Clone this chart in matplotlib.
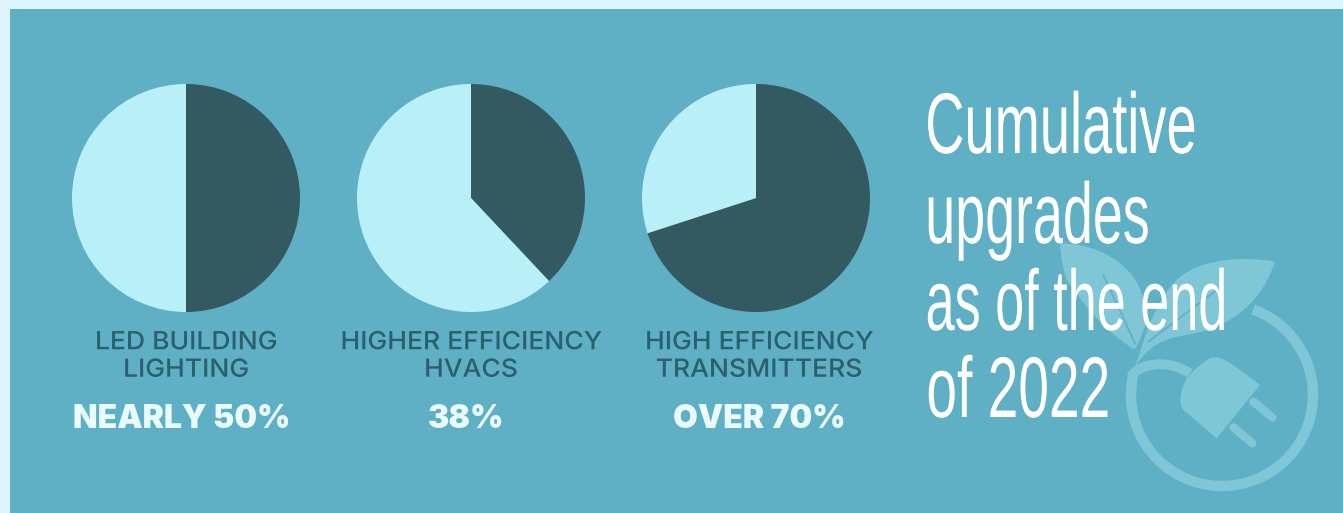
#!/usr/bin/python

import matplotlib
matplotlib.use('Agg')
import matplotlib.pyplot as plt
import matplotlib.patheffects as pe
from matplotlib.patches import Rectangle, PathPatch, Arc
from matplotlib.path import Path
from matplotlib.text import Text
from matplotlib.transforms import Affine2D, Bbox

# share of each pie (dark wedge, percent)
pie_values = [50, 38, 70]
pie_names = ['LED BUILDING\nLIGHTING', 'HIGHER EFFICIENCY\nHVACS', 'HIGH EFFICIENCY\nTRANSMITTERS']
pie_labels = ['NEARLY 50%', '38%', 'OVER 70%']
title_lines = ['Cumulative', 'upgrades', 'as of the end', 'of 2022']

# layout, in pixels of the picture
W, H = 1343, 513
PIE_X = [186, 471, 756]
PIE_Y = 198
RADIUS = 114
NAME_X = [186, 471, 759]
VALUE_X = [182, 466, 759]
TITLE_X = [1061, 1037.5, 1076.5, 1018.5]
TITLE_Y = [153, 243, 330, 417]
TITLE_SX = [0.63, 0.625, 0.606, 0.64]

BG = '#5FB0C5'
EDGE = '#DDF5FA'
DARK = '#335A60'
LIGHT = '#B9F0F7'
ICON = '#7FC6D6'
LABEL = '#2A5F6E'


class Squeeze(pe.AbstractPathEffect):
    # no condensed font is installed, so scale the glyphs about one x position
    def __init__(self, sx, x0):
        super().__init__()
        self.sx = sx
        self.x0 = x0

    def draw_path(self, renderer, gc, tpath, affine, rgbFace=None):
        squeeze = Affine2D().translate(-self.x0, 0).scale(self.sx, 1).translate(self.x0, 0)
        renderer.draw_path(gc, tpath, affine + squeeze, rgbFace)


class ScaledText(Text):
    # real text, with an extent that reports the drawn width
    def __init__(self, x, y, s, sx, **kwargs):
        super().__init__(x, y, s, path_effects=[Squeeze(sx, x)], **kwargs)
        self.sx = sx

    def get_window_extent(self, renderer=None, dpi=None):
        bb = super().get_window_extent(renderer, dpi)
        x0 = self.get_position()[0]
        return Bbox.from_extents(x0 + (bb.x0 - x0) * self.sx, bb.y0,
                                 x0 + (bb.x1 - x0) * self.sx, bb.y1)


def zoom_pt(x, y):
    # icon was measured on a 3x crop starting at (1040, 220)
    return (1040 + x / 3.0, 220 + y / 3.0)


def curve(points, codes):
    return Path([zoom_pt(*p) for p in points], codes)


M, L, C, Z = Path.MOVETO, Path.LINETO, Path.CURVE4, Path.CLOSEPOLY

fig = plt.figure(figsize=(W / 100, H / 100), dpi=100, facecolor=EDGE)
ax = fig.add_axes([0, 0, 1, 1])
ax.set_xlim(0, W)
ax.set_ylim(H, 0)
ax.axis('off')
ax.add_patch(Rectangle((10, 9), W - 10, H - 9, color=BG, lw=0))

# leaf / plug icon behind the title
left_leaf = curve([(60, 70), (190, 70), (300, 150), (312, 250), (318, 310), (295, 370), (285, 405),
                   (270, 380), (180, 320), (130, 250), (80, 180), (60, 120), (60, 70), (60, 70)],
                  [M, C, C, C, L, C, C, C, C, C, C, C, C, Z])
right_leaf = curve([(705, 125), (600, 105), (470, 120), (410, 180), (340, 250), (320, 340), (285, 440),
                    (330, 370), (380, 355), (440, 345), (560, 325), (660, 260), (705, 125), (705, 125)],
                   [M, C, C, C, C, C, C, C, C, C, C, C, C, Z])
plug = curve([(500, 420), (530, 400), (555, 412), (660, 495), (530, 655), (430, 570),
              (415, 550), (420, 510), (440, 475), (465, 445), (485, 432), (500, 420), (500, 420)],
             [M, C, C, L, L, L, C, C, C, C, C, C, Z])
for shape in [left_leaf, right_leaf, plug]:
    ax.add_patch(PathPatch(shape, fc=ICON, ec='none', zorder=2))

ax.plot(*zip(zoom_pt(190, 165), zoom_pt(285, 370)), color=BG, lw=1.2, zorder=3)
ax.plot(*zip(zoom_pt(530, 210), zoom_pt(325, 365)), color=BG, lw=1.2, zorder=3)
ax.plot(*zip(zoom_pt(640, 545), zoom_pt(697, 592)), color=ICON, lw=6, solid_capstyle='round', zorder=2)
ax.plot(*zip(zoom_pt(580, 622), zoom_pt(637, 670)), color=ICON, lw=6, solid_capstyle='round', zorder=2)
ax.add_patch(Arc((1222, 395), 182, 182, theta1=-70, theta2=192, color=ICON, lw=7.5, zorder=2))
cord = curve([(272, 470), (300, 430), (380, 415), (450, 460)], [M, C, C, C])
ax.add_patch(PathPatch(cord, fc='none', ec=ICON, lw=7, zorder=2))

# y axis is inverted here, so the angles run the other way round
for cx, v in zip(PIE_X, pie_values):
    ax.pie([v, 100 - v], colors=[DARK, LIGHT], startangle=-90, counterclock=True,
           center=(cx, PIE_Y), radius=RADIUS, frame=False,
           wedgeprops={'linewidth': 0, 'zorder': 4})
ax.set_xlim(0, W)
ax.set_ylim(H, 0)
ax.set_aspect('auto')

for x, name in zip(NAME_X, pie_names):
    ax.add_artist(ScaledText(x, 356.5, name, 1.06, ha='center', va='center', color=LABEL,
                             fontsize=18, family='Inter', weight='medium', linespacing=1.25,
                             zorder=5))
for x, label in zip(VALUE_X, pie_labels):
    ax.text(x, 419, label, ha='center', va='center', color='#EAFBFD', fontsize=23,
            family='Inter', weight='black', zorder=5)

for x, line, y, sx in zip(TITLE_X, title_lines, TITLE_Y, TITLE_SX):
    ax.add_artist(ScaledText(x, y, line, sx, ha='center', va='baseline', color='white',
                             fontsize=62, family='Liberation Sans', zorder=6))

fig.savefig('out.png', dpi=100, facecolor=EDGE)
